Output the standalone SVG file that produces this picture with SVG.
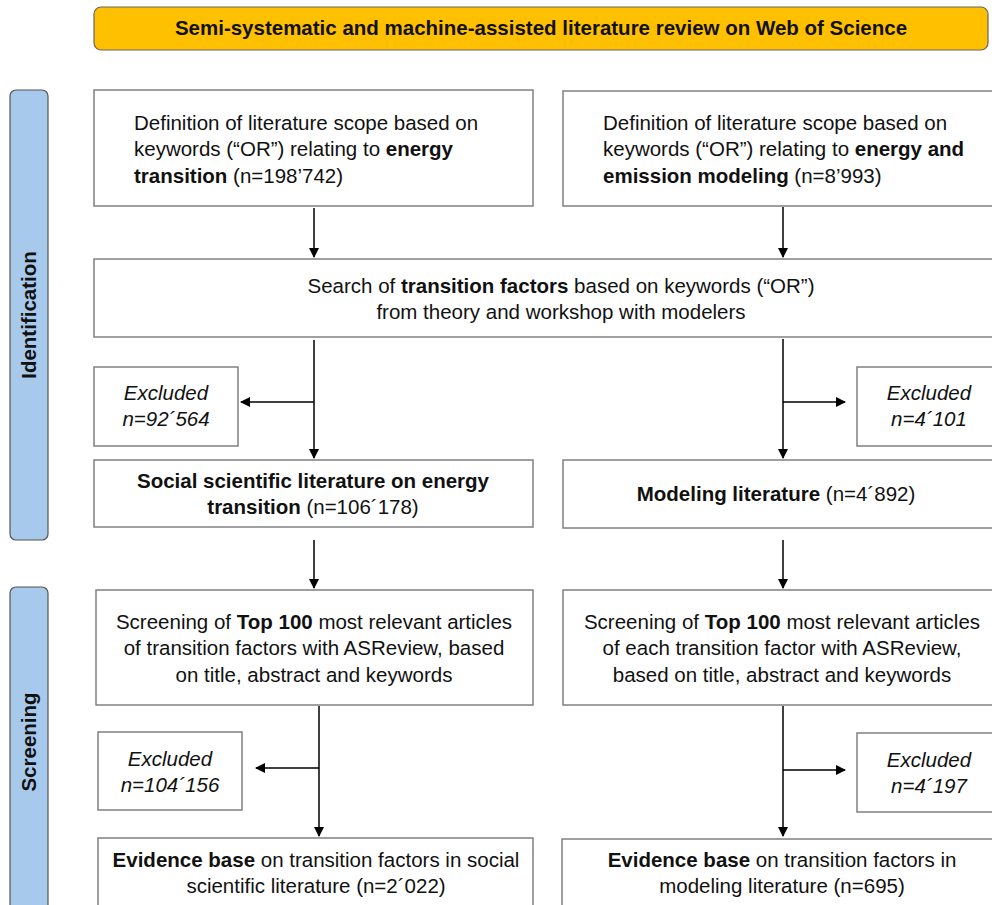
<svg xmlns="http://www.w3.org/2000/svg" width="992" height="905" viewBox="0 0 992 905">
<defs>
<marker id="ah" viewBox="0 0 10 10" refX="9" refY="5" markerWidth="10" markerHeight="10" markerUnits="userSpaceOnUse" orient="auto">
<path d="M0,0 L10,5 L0,10 z" fill="#000"/>
</marker>
<style>
.box{fill:#fff;stroke:#808080;stroke-width:1.5}
.bar{fill:#a6c9ec;stroke:#555;stroke-width:1.2}
.t{font-family:"Liberation Sans",Arial,sans-serif;font-size:20.5px;fill:#111}
.c{text-anchor:middle}
.b{font-weight:bold}
.i{font-style:italic}
.con{stroke:#000;stroke-width:1.5;fill:none}
</style>
</defs>
<rect width="992" height="905" fill="#fff"/>

<g id="title">
<rect x="94" y="7" width="894" height="43" rx="7" fill="#ffc000" stroke="#666" stroke-width="1.2"/>
<text class="t c b" x="541" y="35">Semi-systematic and machine-assisted literature review on Web of Science</text>
</g>

<g id="bar-identification">
<rect class="bar" x="10" y="90" width="38" height="450" rx="6"/>
<text class="t c b" transform="translate(36,315) rotate(-90)" x="0" y="0">Identification</text>
</g>
<g id="bar-screening">
<rect class="bar" x="10" y="587" width="38" height="330" rx="6"/>
<text class="t c b" transform="translate(36,742) rotate(-90)" x="0" y="0">Screening</text>
</g>

<g id="def-energy">
<rect class="box" x="94" y="90" width="439" height="116"/>
<text class="t" x="134" y="130">Definition of literature scope based on</text>
<text class="t" x="134" y="156">keywords (“OR”) relating to <tspan class="b">energy</tspan></text>
<text class="t" x="134" y="183"><tspan class="b">transition</tspan> (n=198’742)</text>
</g>
<g id="def-model">
<rect class="box" x="563" y="91" width="430" height="115"/>
<text class="t" x="603" y="130">Definition of literature scope based on</text>
<text class="t" x="603" y="156">keywords (“OR”) relating to <tspan class="b">energy and</tspan></text>
<text class="t" x="603" y="183"><tspan class="b">emission modeling</tspan> (n=8’993)</text>
</g>

<g id="search">
<rect class="box" x="94" y="259" width="899" height="78"/>
<text class="t c" x="561" y="293">Search of <tspan class="b">transition factors</tspan> based on keywords (“OR”)</text>
<text class="t c" x="561" y="319">from theory and workshop with modelers</text>
</g>

<g id="excl-1">
<rect class="box" x="94" y="367" width="144" height="79"/>
<text class="t c i" x="166" y="400">Excluded</text>
<text class="t c i" x="166" y="426">n=92´564</text>
</g>
<g id="excl-2">
<rect class="box" x="857" y="367" width="136" height="79"/>
<text class="t c i" x="929" y="400">Excluded</text>
<text class="t c i" x="929" y="426">n=4´101</text>
</g>

<g id="social">
<rect class="box" x="94" y="460" width="439" height="67"/>
<text class="t c b" x="313" y="488">Social scientific literature on energy</text>
<text class="t c" x="313" y="514"><tspan class="b">transition</tspan> (n=106´178)</text>
</g>
<g id="modeling">
<rect class="box" x="563" y="460" width="430" height="68"/>
<text class="t c" x="776" y="501"><tspan class="b">Modeling literature</tspan> (n=4´892)</text>
</g>

<g id="screen-1">
<rect class="box" x="96" y="590" width="437" height="115"/>
<text class="t c" x="314" y="629">Screening of <tspan class="b">Top 100</tspan> most relevant articles</text>
<text class="t c" x="314" y="655">of transition factors with ASReview, based</text>
<text class="t c" x="314" y="682">on title, abstract and keywords</text>
</g>
<g id="screen-2">
<rect class="box" x="563" y="590" width="430" height="115"/>
<text class="t c" x="782" y="629">Screening of <tspan class="b">Top 100</tspan> most relevant articles</text>
<text class="t c" x="782" y="655">of each transition factor with ASReview,</text>
<text class="t c" x="782" y="682">based on title, abstract and keywords</text>
</g>

<g id="excl-3">
<rect class="box" x="98" y="732" width="144" height="78"/>
<text class="t c i" x="170" y="766">Excluded</text>
<text class="t c i" x="170" y="792">n=104´156</text>
</g>
<g id="excl-4">
<rect class="box" x="857" y="733" width="136" height="79"/>
<text class="t c i" x="929" y="767">Excluded</text>
<text class="t c i" x="929" y="793">n=4´197</text>
</g>

<g id="evidence-1">
<rect class="box" x="98" y="838" width="435" height="80"/>
<text class="t c" x="316" y="867"><tspan class="b">Evidence base</tspan> on transition factors in social</text>
<text class="t c" x="316" y="893">scientific literature (n=2´022)</text>
</g>
<g id="evidence-2">
<rect class="box" x="562" y="839" width="431" height="80"/>
<text class="t c" x="782" y="867"><tspan class="b">Evidence base</tspan> on transition factors in</text>
<text class="t c" x="782" y="893">modeling literature (n=695)</text>
</g>

<g id="connectors">
<line class="con" x1="314" y1="208" x2="314" y2="257" marker-end="url(#ah)"/>
<line class="con" x1="783" y1="207" x2="783" y2="257" marker-end="url(#ah)"/>
<line class="con" x1="314" y1="340" x2="314" y2="458" marker-end="url(#ah)"/>
<line class="con" x1="314" y1="402" x2="241" y2="402" marker-end="url(#ah)"/>
<line class="con" x1="783" y1="339" x2="783" y2="458" marker-end="url(#ah)"/>
<line class="con" x1="783" y1="402" x2="845" y2="402" marker-end="url(#ah)"/>
<line class="con" x1="314" y1="540" x2="314" y2="588" marker-end="url(#ah)"/>
<line class="con" x1="783" y1="540" x2="783" y2="588" marker-end="url(#ah)"/>
<line class="con" x1="319" y1="706" x2="319" y2="836" marker-end="url(#ah)"/>
<line class="con" x1="319" y1="768" x2="256" y2="768" marker-end="url(#ah)"/>
<line class="con" x1="783" y1="706" x2="783" y2="836" marker-end="url(#ah)"/>
<line class="con" x1="783" y1="770" x2="845" y2="770" marker-end="url(#ah)"/>
</g>
</svg>
